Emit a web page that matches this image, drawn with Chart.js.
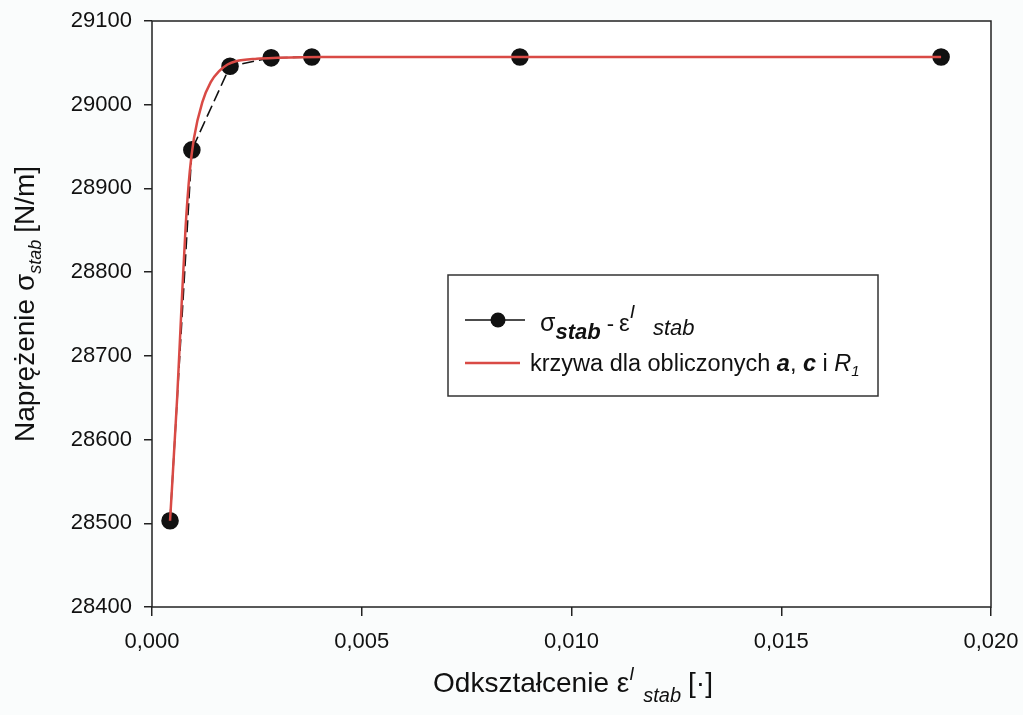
<!DOCTYPE html>
<html><head><meta charset="utf-8">
<script src="https://cdn.jsdelivr.net/npm/chart.js@4/dist/chart.umd.min.js"></script>
<style>html,body{margin:0;padding:0;background:#fafcfc;}#wrap{width:1023px;height:715px;}</style>
</head><body><div id="wrap"><canvas id="c" width="1023" height="715"></canvas></div>
<script>
// measured data points (strain, stress)
const strainPts = [0.00043, 0.00095, 0.00186, 0.00284, 0.00381, 0.00877, 0.01881];
const stressPts = [28503, 28946, 29046, 29056, 29057, 29057, 29057];
// fitted curve
const curveStrain = [0.00043, 0.0006, 0.0007, 0.0008, 0.0009, 0.0010, 0.0012, 0.0014, 0.0016, 0.0018, 0.0020, 0.0025, 0.0030, 0.0040, 0.0060, 0.0100, 0.0150, 0.01881];
const curveStress = [28503, 28650, 28755, 28853, 28920, 28960, 29003, 29027, 29040, 29048, 29052, 29055, 29056, 29057, 29057, 29057, 29057, 29057];
const xTicks = [0, 0.005, 0.010, 0.015, 0.020];
const yTicks = [28400, 28500, 28600, 28700, 28800, 28900, 29000, 29100];

const FONT = '"Liberation Sans", Arial, sans-serif';
const ff = (s, st) => (st || '') + ' ' + s + 'px ' + FONT;

function drawRich(ctx, x, y, segs, align) {
  let w = 0;
  segs.forEach(s => { ctx.font = s.f; s.w = ctx.measureText(s.t).width; w += s.w + (s.gap || 0); });
  let cx = align === 'center' ? x - w / 2 : x;
  ctx.textBaseline = 'alphabetic'; ctx.textAlign = 'left';
  segs.forEach(s => { ctx.font = s.f; ctx.fillText(s.t, cx, y + (s.dy || 0)); cx += s.w + (s.gap || 0); });
}

const decor = {
  id: 'decor',
  beforeDatasetsDraw(chart) {
    const {ctx, chartArea: a} = chart;
    ctx.save(); ctx.fillStyle = '#ffffff';
    ctx.fillRect(a.left, a.top, a.right - a.left, a.bottom - a.top);
    ctx.restore();
  },
  afterDraw(chart) {
    const {ctx, chartArea: a} = chart;
    ctx.save();
    ctx.strokeStyle = '#222'; ctx.lineWidth = 1.5;
    ctx.strokeRect(a.left, a.top, a.right - a.left, a.bottom - a.top);
    ctx.fillStyle = '#111';
    // x title
    drawRich(ctx, 573, 692, [
      {t: 'Odkształcenie ', f: ff(28)},
      {t: 'ε', f: ff(28)},
      {t: 'I', f: ff(18, 'italic'), dy: -12, gap: 9},
      {t: 'stab', f: ff(20, 'italic'), dy: 10, gap: 7},
      {t: '[·]', f: ff(28)}
    ], 'center');
    // y title
    ctx.save(); ctx.translate(34, 304); ctx.rotate(-Math.PI / 2);
    drawRich(ctx, 0, 0, [
      {t: 'Naprężenie ', f: ff(28)},
      {t: 'σ', f: ff(28)},
      {t: 'stab', f: ff(18, 'italic'), dy: 7, gap: 7},
      {t: '[N/m]', f: ff(28)}
    ], 'center');
    ctx.restore();
    // legend
    ctx.fillStyle = '#ffffff';
    ctx.fillRect(448, 275, 430, 121);
    ctx.strokeStyle = '#333'; ctx.lineWidth = 1.5;
    ctx.strokeRect(448, 275, 430, 121);
    ctx.strokeStyle = '#111'; ctx.lineWidth = 1.5;
    ctx.beginPath(); ctx.moveTo(465, 320); ctx.lineTo(525, 320); ctx.stroke();
    ctx.fillStyle = '#111';
    ctx.beginPath(); ctx.arc(498, 320, 7.5, 0, Math.PI * 2); ctx.fill();
    drawRich(ctx, 540, 331, [
      {t: 'σ', f: ff(25)},
      {t: 'stab', f: ff(22, 'italic bold'), dy: 8, gap: 6},
      {t: '-', f: ff(22), gap: 5},
      {t: 'ε', f: ff(24)},
      {t: 'I', f: ff(19, 'italic'), dy: -13, gap: 18},
      {t: 'stab', f: ff(22, 'italic'), dy: 4}
    ], 'left');
    ctx.strokeStyle = '#d94a45'; ctx.lineWidth = 2.5;
    ctx.beginPath(); ctx.moveTo(465, 363); ctx.lineTo(520, 363); ctx.stroke();
    ctx.fillStyle = '#111';
    drawRich(ctx, 530, 371, [
      {t: 'krzywa dla obliczonych ', f: ff(23.5)},
      {t: 'a', f: ff(23.5, 'italic bold')},
      {t: ', ', f: ff(23.5)},
      {t: 'c', f: ff(23.5, 'italic bold')},
      {t: ' i ', f: ff(23.5)},
      {t: 'R', f: ff(23.5, 'italic')},
      {t: '1', f: ff(15, 'italic'), dy: 5}
    ], 'left');
    ctx.restore();
  }
};

new Chart(document.getElementById('c'), {
  type: 'line',
  data: {
    datasets: [
      {
        label: 'krzywa',
        data: curveStrain.map((x, i) => ({x, y: curveStress[i]})),
        borderColor: '#d94a45', borderWidth: 2.5, pointRadius: 0,
        cubicInterpolationMode: 'monotone', fill: false, order: 0
      },
      {
        label: 'sigma',
        data: strainPts.map((x, i) => ({x, y: stressPts[i]})),
        borderColor: '#111', borderWidth: 1.6, borderDash: [12, 5],
        pointRadius: 8, pointBackgroundColor: '#111', pointBorderColor: '#111',
        tension: 0, fill: false, order: 1
      }
    ]
  },
  plugins: [decor],
  options: {
    responsive: false, animation: false, devicePixelRatio: 1,
    layout: {padding: {left: 0, right: 32, top: 21, bottom: 0}},
    plugins: {legend: {display: false}, tooltip: {enabled: false}},
    scales: {
      x: {
        type: 'linear', min: 0, max: 0.02,
        afterFit: s => { s.height = 108; s.paddingLeft = 0; s.paddingRight = 0; },
        afterBuildTicks: s => { s.ticks = xTicks.map(v => ({value: v})); },
        ticks: {padding: 13, color: '#111', font: {family: FONT, size: 22},
          callback: v => Number(v).toFixed(3).replace('.', ','), maxRotation: 0},
        grid: {drawOnChartArea: false, drawTicks: true, tickLength: 9, color: '#222', lineWidth: 1.5},
        border: {display: false}
      },
      y: {
        type: 'linear', min: 28400, max: 29100,
        afterFit: s => { s.width = 152; s.paddingTop = 0; s.paddingBottom = 0; },
        afterBuildTicks: s => { s.ticks = yTicks.map(v => ({value: v})); },
        ticks: {padding: 12, color: '#111', font: {family: FONT, size: 22},
          callback: v => String(v)},
        grid: {drawOnChartArea: false, drawTicks: true, tickLength: 8, color: '#222', lineWidth: 1.5},
        border: {display: false}
      }
    }
  }
});
</script>
</body></html>
